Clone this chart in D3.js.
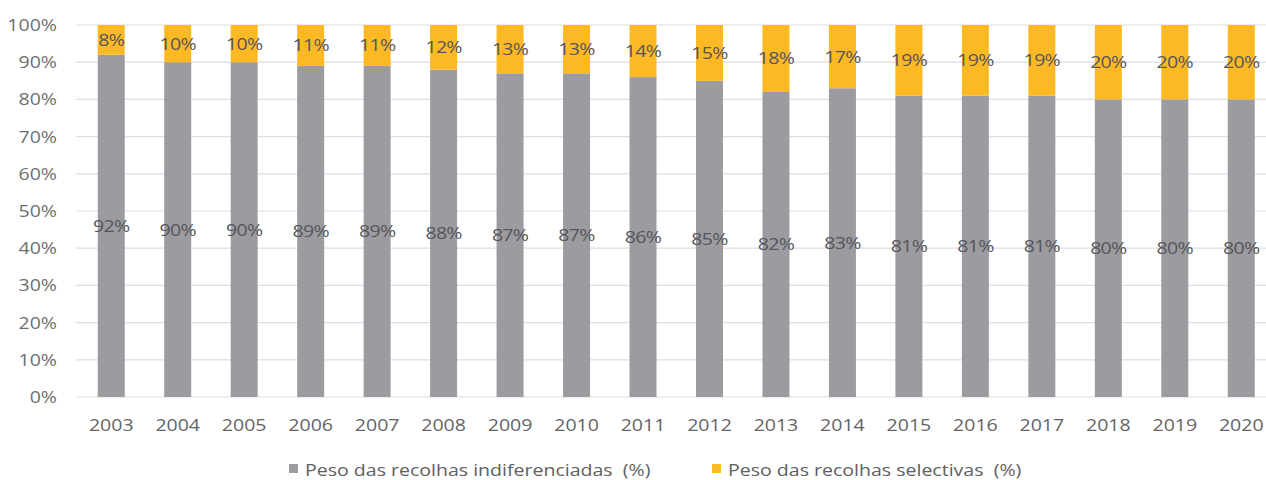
<!DOCTYPE html>
<html>
<head>
<meta charset="utf-8">
<script src="https://cdn.jsdelivr.net/npm/d3@7/dist/d3.min.js"></script>
<style>
  html, body { margin: 0; padding: 0; background: #fff; }
  svg { display: block; font-family: "Open Sans", sans-serif; }
  text { white-space: pre; }
</style>
</head>
<body>
<svg id="chart" width="1266" height="480"></svg>
<script>
const years = ["2003","2004","2005","2006","2007","2008","2009","2010","2011","2012","2013","2014","2015","2016","2017","2018","2019","2020"];
const indiferenciadas = [92,90,90,89,89,88,87,87,86,85,82,83,81,81,81,80,80,80];
const selectivas = [8,10,10,11,11,12,13,13,14,15,18,17,19,19,19,20,20,20];
const yTicks = [0,10,20,30,40,50,60,70,80,90,100];
const seriesNames = ["Peso das recolhas indiferenciadas  (%)", "Peso das recolhas selectivas  (%)"];

const colors = ["#9b9ba0", "#fdb924"];
const SX = "scale(1.15,1)";
const svg = d3.select("#chart");

const x = d3.scaleBand().domain(years).range([78, 1274.5]).paddingInner(0.594).paddingOuter(0.297);
const y = d3.scaleLinear().domain([0, 100]).range([397, 25]);

// gridlines
svg.append("g").selectAll("line").data(yTicks).join("line")
  .attr("x1", 76).attr("x2", 1266)
  .attr("y1", d => y(d)).attr("y2", d => y(d))
  .attr("stroke", "#dedee3").attr("stroke-width", 1.2);

// y axis
const yAxis = d3.axisLeft(y).tickValues(yTicks).tickFormat(d => d + "%").tickSize(0).tickPadding(0);
const gy = svg.append("g").attr("transform", "translate(57,0)").call(yAxis);
gy.select(".domain").remove();
gy.selectAll("text").attr("font-size", 17).attr("fill", "#6e6e6e")
  .attr("font-family", "Open Sans, sans-serif").attr("transform", SX);

// x axis
const xAxis = d3.axisBottom(x).tickSize(0).tickPadding(0);
const gx = svg.append("g").attr("transform", "translate(0,419)").call(xAxis);
gx.select(".domain").remove();
gx.selectAll("text").attr("font-size", 17).attr("fill", "#646464")
  .attr("font-family", "Open Sans, sans-serif").attr("transform", SX);

const rows = years.map((yr, i) => ({ year: yr, ind: indiferenciadas[i], sel: selectivas[i] }));
const stack = d3.stack().keys(["ind", "sel"])(rows);

const g = svg.append("g");
stack.forEach((layer, li) => {
  g.append("g").selectAll("rect").data(layer).join("rect")
    .attr("x", d => x(d.data.year))
    .attr("width", x.bandwidth())
    .attr("y", d => y(d[1]))
    .attr("height", d => y(d[0]) - y(d[1]))
    .attr("fill", colors[li]);
  g.append("g").selectAll("g").data(layer).join("g")
    .attr("transform", d => `translate(${x(d.data.year) + x.bandwidth() / 2},${y((d[0] + d[1]) / 2)})`)
    .append("text")
    .attr("dy", "0.35em")
    .attr("text-anchor", "middle")
    .attr("font-size", 17)
    .attr("letter-spacing", "-0.6")
    .attr("fill", "#55555a")
    .attr("transform", SX)
    .text(d => (d[1] - d[0]) + "%");
});

// legend
const legendX = [289, 712];
seriesNames.forEach((name, i) => {
  svg.append("rect").attr("x", legendX[i]).attr("y", 464).attr("width", 9).attr("height", 9).attr("fill", colors[i]);
  svg.append("g").attr("transform", `translate(${legendX[i] + 16},476)`)
    .append("text").attr("font-size", 17).attr("fill", "#606060")
    .attr("transform", SX).text(name);
});
</script>
</body>
</html>
